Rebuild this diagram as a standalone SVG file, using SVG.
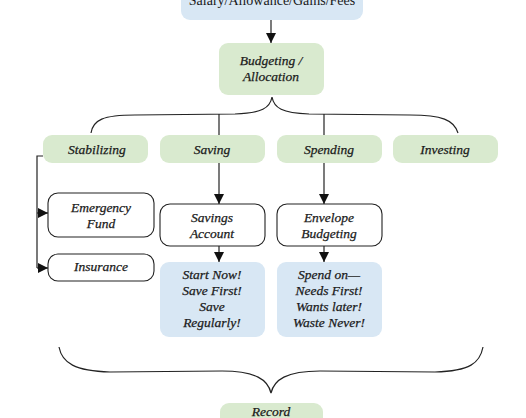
<svg xmlns="http://www.w3.org/2000/svg" width="526" height="418" viewBox="0 0 526 418">
<style>
.g{fill:#d9eacf}
.b{fill:#d8e7f4}
.w{fill:#fff;stroke:#222;stroke-width:1.1}
text{font-family:"Liberation Serif","DejaVu Serif",serif;font-size:13.5px;font-style:italic;fill:#1a1a1a;stroke:#1a1a1a;stroke-width:0.25;text-anchor:middle}
.up{font-style:normal;font-size:14px;stroke:none}
.ln{fill:none;stroke:#222;stroke-width:1.2}
</style>
<defs>
<marker id="ah" viewBox="0 0 10 10" refX="10" refY="5" markerWidth="10" markerHeight="10" markerUnits="userSpaceOnUse" orient="auto">
<path d="M0,0 L10,5 L0,10 Z" fill="#111"/>
</marker>
</defs>
<g id="connectors">
<line class="ln" x1="271" y1="20" x2="271" y2="43" marker-end="url(#ah)"/>
<path class="ln" d="M91,133 C93,120 103,115 135,115 L235,114 C262,113 270,108 272,97 C274,108 282,113 309,114 L410,115 C442,115 454,120 458,133"/>
<line class="ln" x1="219" y1="114" x2="219" y2="135"/>
<line class="ln" x1="324" y1="114" x2="324" y2="135"/>
<line class="ln" x1="219" y1="163" x2="219" y2="204" marker-end="url(#ah)"/>
<line class="ln" x1="324" y1="163" x2="324" y2="204" marker-end="url(#ah)"/>
<line class="ln" x1="219" y1="246" x2="219" y2="262" marker-end="url(#ah)"/>
<line class="ln" x1="324" y1="246" x2="324" y2="262" marker-end="url(#ah)"/>
<path class="ln" d="M43,156 L37,156 L37,268"/>
<line class="ln" x1="37" y1="213" x2="48" y2="213" marker-end="url(#ah)"/>
<line class="ln" x1="37" y1="268" x2="48" y2="268" marker-end="url(#ah)"/>
<path class="ln" d="M59,347 C62,363 75,371 110,372 L222,371 C256,371 268,380 271,393 C274,380 286,371 320,371 L435,372 C470,371 480,363 483,347"/>
</g>
<g id="income">
<rect class="b" x="181" y="-20" width="182" height="40" rx="9"/>
<text class="up" x="272" y="5">Salary/Allowance/Gains/Fees</text>
</g>
<g id="budgeting">
<rect class="g" x="219" y="43" width="105" height="52" rx="9"/>
<text x="271" y="65">Budgeting /</text>
<text x="271" y="81">Allocation</text>
</g>
<g id="stabilizing">
<rect class="g" x="43" y="135" width="105" height="28" rx="9"/>
<text x="97" y="154">Stabilizing</text>
</g>
<g id="saving">
<rect class="g" x="160" y="135" width="105" height="28" rx="9"/>
<text x="212" y="154">Saving</text>
</g>
<g id="spending">
<rect class="g" x="277" y="135" width="105" height="28" rx="9"/>
<text x="329" y="154">Spending</text>
</g>
<g id="investing">
<rect class="g" x="393" y="135" width="105" height="28" rx="9"/>
<text x="445" y="154">Investing</text>
</g>
<g id="emergency">
<rect class="w" x="48" y="193" width="106" height="44" rx="10"/>
<text x="101" y="212">Emergency</text>
<text x="101" y="228">Fund</text>
</g>
<g id="insurance">
<rect class="w" x="48" y="254" width="106" height="27" rx="10"/>
<text x="101" y="271">Insurance</text>
</g>
<g id="savings-account">
<rect class="w" x="160" y="204" width="105" height="42" rx="10"/>
<text x="212" y="222">Savings</text>
<text x="212" y="238">Account</text>
</g>
<g id="envelope">
<rect class="w" x="277" y="204" width="105" height="42" rx="10"/>
<text x="329" y="222">Envelope</text>
<text x="329" y="238">Budgeting</text>
</g>
<g id="saving-tips">
<rect class="b" x="160" y="262" width="105" height="75" rx="9"/>
<text x="212" y="279">Start Now!</text>
<text x="212" y="295">Save First!</text>
<text x="212" y="311">Save</text>
<text x="212" y="327">Regularly!</text>
</g>
<g id="spending-tips">
<rect class="b" x="277" y="262" width="105" height="75" rx="9"/>
<text x="329" y="279">Spend on—</text>
<text x="329" y="295">Needs First!</text>
<text x="329" y="311">Wants later!</text>
<text x="329" y="327">Waste Never!</text>
</g>
<g id="record">
<rect class="g" x="220" y="403" width="103" height="40" rx="9"/>
<text x="271" y="416">Record</text>
</g>
</svg>
